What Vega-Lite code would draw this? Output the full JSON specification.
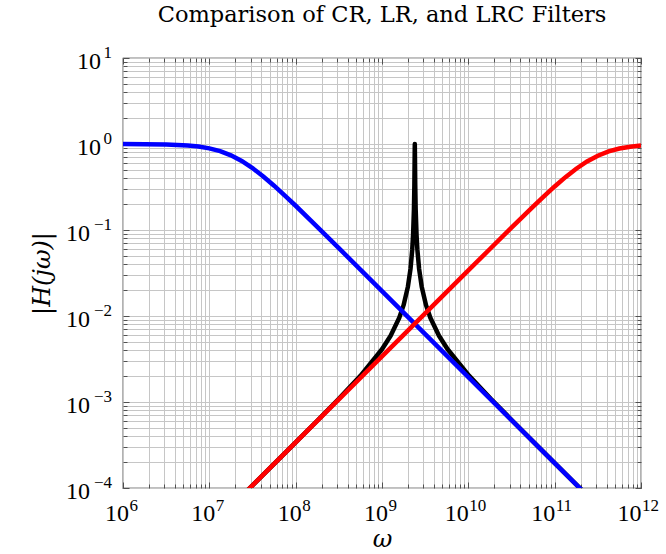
{
  "$schema": "https://vega.github.io/schema/vega-lite/v6.json",
  "width": 518,
  "height": 430,
  "autosize": {"type": "none"},
  "padding": {"left": 123, "top": 58, "right": 25, "bottom": 66},
  "background": "white",
  "config": {"view": {"stroke": "#000000", "strokeWidth": 1.2}},
  "title": {"text": "Comparison of CR, LR, and LRC Filters", "font": "DejaVu Serif", "fontSize": 22.5, "fontWeight": "normal", "anchor": "middle", "baseline": "alphabetic", "offset": 0, "color": "#000000"},
  "datasets": {
    "curves": [
      {"s": "LR", "w": 1e6, "H": 0.9987},
      {"s": "LR", "w": 1.7783e6, "H": 0.9959},
      {"s": "LR", "w": 3.1623e6, "H": 0.9871},
      {"s": "LR", "w": 5.6234e6, "H": 0.9608},
      {"s": "LR", "w": 7.4989e6, "H": 0.9334},
      {"s": "LR", "w": 1e7, "H": 0.8898},
      {"s": "LR", "w": 1.3335e7, "H": 0.8254},
      {"s": "LR", "w": 1.7783e7, "H": 0.7389},
      {"s": "LR", "w": 2.3714e7, "H": 0.6351},
      {"s": "LR", "w": 3.1623e7, "H": 0.5249},
      {"s": "LR", "w": 4.2170e7, "H": 0.4197},
      {"s": "LR", "w": 5.6234e7, "H": 0.3276},
      {"s": "LR", "w": 7.4989e7, "H": 0.2516},
      {"s": "LR", "w": 1e8, "H": 0.1914},
      {"s": "LR", "w": 1.7783e8, "H": 0.1090},
      {"s": "LR", "w": 3.1623e8, "H": 0.06155},
      {"s": "LR", "w": 5.6234e8, "H": 0.03465},
      {"s": "LR", "w": 1e9, "H": 0.01949},
      {"s": "LR", "w": 3.1623e9, "H": 0.006166},
      {"s": "LR", "w": 1e10, "H": 0.001950},
      {"s": "LR", "w": 3.1623e10, "H": 0.0006166},
      {"s": "LR", "w": 1e11, "H": 0.0001950},
      {"s": "LR", "w": 3.1623e11, "H": 0.00006166},
      {"s": "LR", "w": 1e12, "H": 0.0000195},
      {"s": "CR", "w": 1e6, "H": 3.388e-6},
      {"s": "CR", "w": 1e7, "H": 3.388e-5},
      {"s": "CR", "w": 1e8, "H": 3.388e-4},
      {"s": "CR", "w": 1e9, "H": 3.388e-3},
      {"s": "CR", "w": 3.1623e9, "H": 0.010715},
      {"s": "CR", "w": 1e10, "H": 0.03386},
      {"s": "CR", "w": 1.7783e10, "H": 0.06015},
      {"s": "CR", "w": 3.1623e10, "H": 0.10654},
      {"s": "CR", "w": 5.6234e10, "H": 0.18718},
      {"s": "CR", "w": 7.4989e10, "H": 0.24628},
      {"s": "CR", "w": 1e11, "H": 0.32092},
      {"s": "CR", "w": 1.3335e11, "H": 0.41177},
      {"s": "CR", "w": 1.7783e11, "H": 0.51611},
      {"s": "CR", "w": 2.3714e11, "H": 0.62638},
      {"s": "CR", "w": 3.1623e11, "H": 0.73109},
      {"s": "CR", "w": 4.2170e11, "H": 0.81929},
      {"s": "CR", "w": 5.6234e11, "H": 0.88548},
      {"s": "CR", "w": 7.4989e11, "H": 0.93053},
      {"s": "CR", "w": 1e12, "H": 0.95910},
      {"s": "LRC", "w": 1e6, "H": 3.388e-6},
      {"s": "LRC", "w": 3.1623e6, "H": 1.0715e-5},
      {"s": "LRC", "w": 1e7, "H": 3.388e-5},
      {"s": "LRC", "w": 3.1623e7, "H": 1.0717e-4},
      {"s": "LRC", "w": 1e8, "H": 3.3943e-4},
      {"s": "LRC", "w": 1.7783e8, "H": 6.0585e-4},
      {"s": "LRC", "w": 3.1623e8, "H": 1.0904e-3},
      {"s": "LRC", "w": 5.6234e8, "H": 2.0162e-3},
      {"s": "LRC", "w": 1e9, "H": 4.1009e-3},
      {"s": "LRC", "w": 1.2589e9, "H": 5.887e-3},
      {"s": "LRC", "w": 1.5849e9, "H": 9.530e-3},
      {"s": "LRC", "w": 1.7783e9, "H": 0.013375},
      {"s": "LRC", "w": 1.9953e9, "H": 0.021933},
      {"s": "LRC", "w": 2.1380e9, "H": 0.035199},
      {"s": "LRC", "w": 2.2387e9, "H": 0.05868},
      {"s": "LRC", "w": 2.2909e9, "H": 0.08787},
      {"s": "LRC", "w": 2.3442e9, "H": 0.17382},
      {"s": "LRC", "w": 2.3714e9, "H": 0.33287},
      {"s": "LRC", "w": 2.3878e9, "H": 0.66165},
      {"s": "LRC", "w": 2.3988e9, "H": 1.0},
      {"s": "LRC", "w": 2.4099e9, "H": 0.66165},
      {"s": "LRC", "w": 2.4266e9, "H": 0.33287},
      {"s": "LRC", "w": 2.4547e9, "H": 0.17382},
      {"s": "LRC", "w": 2.5119e9, "H": 0.08787},
      {"s": "LRC", "w": 2.5704e9, "H": 0.05868},
      {"s": "LRC", "w": 2.6915e9, "H": 0.035199},
      {"s": "LRC", "w": 2.8840e9, "H": 0.021933},
      {"s": "LRC", "w": 3.2359e9, "H": 0.013375},
      {"s": "LRC", "w": 3.6308e9, "H": 9.530e-3},
      {"s": "LRC", "w": 4.5709e9, "H": 5.887e-3},
      {"s": "LRC", "w": 5.7544e9, "H": 4.1009e-3},
      {"s": "LRC", "w": 1.0233e10, "H": 2.0162e-3},
      {"s": "LRC", "w": 1.8197e10, "H": 1.0904e-3},
      {"s": "LRC", "w": 3.2359e10, "H": 6.0585e-4},
      {"s": "LRC", "w": 5.7544e10, "H": 3.3943e-4},
      {"s": "LRC", "w": 1.8197e11, "H": 1.0717e-4},
      {"s": "LRC", "w": 5.7544e11, "H": 3.388e-5},
      {"s": "LRC", "w": 1e12, "H": 1.9498e-5}
    ],
    "xl": [
      {"v": 1e6, "b": "10", "e": "6"},
      {"v": 1e7, "b": "10", "e": "7"},
      {"v": 1e8, "b": "10", "e": "8"},
      {"v": 1e9, "b": "10", "e": "9"},
      {"v": 1e10, "b": "10", "e": "10"},
      {"v": 1e11, "b": "10", "e": "11"},
      {"v": 1e12, "b": "10", "e": "12"}
    ],
    "yl": [
      {"v": 1e-4, "b": "10", "e": "−4"},
      {"v": 1e-3, "b": "10", "e": "−3"},
      {"v": 1e-2, "b": "10", "e": "−2"},
      {"v": 1e-1, "b": "10", "e": "−1"},
      {"v": 1, "b": "10", "e": "0"},
      {"v": 10, "b": "10", "e": "1"}
    ]
  },
  "resolve": {"axis": {"x": "independent", "y": "independent"}},
  "layer": [
    {
      "data": {"name": "curves"},
      "transform": [{"filter": "datum.s == 'LRC'"}],
      "mark": {"type": "line", "clip": true, "strokeWidth": 4.5, "strokeJoin": "round"},
      "encoding": {
        "x": {"field": "w", "type": "quantitative",
          "scale": {"type": "log", "domain": [1e6, 1e12], "nice": false},
          "axis": {"orient": "bottom", "title": "ω", "titleFont": "DejaVu Serif", "titleFontStyle": "italic", "titleFontWeight": "normal", "titleFontSize": 24, "titlePadding": 39, "titleColor": "#000",
            "values": [1e6,2e6,3e6,4e6,5e6,6e6,7e6,8e6,9e6,1e7,2e7,3e7,4e7,5e7,6e7,7e7,8e7,9e7,1e8,2e8,3e8,4e8,5e8,6e8,7e8,8e8,9e8,1e9,2e9,3e9,4e9,5e9,6e9,7e9,8e9,9e9,1e10,2e10,3e10,4e10,5e10,6e10,7e10,8e10,9e10,1e11,2e11,3e11,4e11,5e11,6e11,7e11,8e11,9e11,1e12],
            "labels": false, "grid": true, "gridColor": "#c6c6c6", "gridWidth": 1, "ticks": false, "domain": false}},
        "y": {"field": "H", "type": "quantitative",
          "scale": {"type": "log", "domain": [1e-4, 10], "nice": false},
          "axis": {"orient": "left", "title": "|H(jω)|", "titleFont": "DejaVu Serif", "titleFontStyle": "italic", "titleFontWeight": "normal", "titleFontSize": 24, "titlePadding": 69, "titleColor": "#000",
            "values": [1e-4,2e-4,3e-4,4e-4,5e-4,6e-4,7e-4,8e-4,9e-4,1e-3,2e-3,3e-3,4e-3,5e-3,6e-3,7e-3,8e-3,9e-3,1e-2,2e-2,3e-2,4e-2,5e-2,6e-2,7e-2,8e-2,9e-2,0.1,0.2,0.3,0.4,0.5,0.6,0.7,0.8,0.9,1,2,3,4,5,6,7,8,9,10],
            "labels": false, "grid": true, "gridColor": "#c6c6c6", "gridWidth": 1, "ticks": false, "domain": false}},
        "color": {"field": "s", "type": "nominal", "scale": {"domain": ["LRC", "LR", "CR"], "range": ["#000000", "#0000ff", "#ff0000"]}, "legend": null}
      }
    },
    {
      "data": {"name": "curves"},
      "transform": [{"filter": "datum.s == 'LR'"}],
      "mark": {"type": "line", "clip": true, "strokeWidth": 4.5},
      "encoding": {
        "x": {"field": "w", "type": "quantitative",
          "scale": {"type": "log", "domain": [1e6, 1e12], "nice": false},
          "axis": {"orient": "bottom", "title": null, "labels": false, "grid": false, "domain": false,
            "values": [1e6,2e6,3e6,4e6,5e6,6e6,7e6,8e6,9e6,1e7,2e7,3e7,4e7,5e7,6e7,7e7,8e7,9e7,1e8,2e8,3e8,4e8,5e8,6e8,7e8,8e8,9e8,1e9,2e9,3e9,4e9,5e9,6e9,7e9,8e9,9e9,1e10,2e10,3e10,4e10,5e10,6e10,7e10,8e10,9e10,1e11,2e11,3e11,4e11,5e11,6e11,7e11,8e11,9e11,1e12],
            "ticks": true, "tickColor": "#505050", "tickWidth": 1,
            "tickSize": {"condition": {"test": "abs(log(datum.value)/LN10 - round(log(datum.value)/LN10)) < 0.01", "value": -6}, "value": -4}}},
        "y": {"field": "H", "type": "quantitative",
          "scale": {"type": "log", "domain": [1e-4, 10], "nice": false},
          "axis": {"orient": "left", "title": null, "labels": false, "grid": false, "domain": false,
            "values": [1e-4,2e-4,3e-4,4e-4,5e-4,6e-4,7e-4,8e-4,9e-4,1e-3,2e-3,3e-3,4e-3,5e-3,6e-3,7e-3,8e-3,9e-3,1e-2,2e-2,3e-2,4e-2,5e-2,6e-2,7e-2,8e-2,9e-2,0.1,0.2,0.3,0.4,0.5,0.6,0.7,0.8,0.9,1,2,3,4,5,6,7,8,9,10],
            "ticks": true, "tickColor": "#505050", "tickWidth": 1,
            "tickSize": {"condition": {"test": "abs(log(datum.value)/LN10 - round(log(datum.value)/LN10)) < 0.01", "value": -6}, "value": -4}}},
        "color": {"field": "s", "type": "nominal", "scale": {"domain": ["LRC", "LR", "CR"], "range": ["#000000", "#0000ff", "#ff0000"]}, "legend": null}
      }
    },
    {
      "data": {"name": "curves"},
      "transform": [{"filter": "datum.s == 'CR'"}],
      "mark": {"type": "line", "clip": true, "strokeWidth": 4.5},
      "encoding": {
        "x": {"field": "w", "type": "quantitative",
          "scale": {"type": "log", "domain": [1e6, 1e12], "nice": false},
          "axis": {"orient": "top", "title": null, "labels": false, "grid": false, "domain": false,
            "values": [1e6,2e6,3e6,4e6,5e6,6e6,7e6,8e6,9e6,1e7,2e7,3e7,4e7,5e7,6e7,7e7,8e7,9e7,1e8,2e8,3e8,4e8,5e8,6e8,7e8,8e8,9e8,1e9,2e9,3e9,4e9,5e9,6e9,7e9,8e9,9e9,1e10,2e10,3e10,4e10,5e10,6e10,7e10,8e10,9e10,1e11,2e11,3e11,4e11,5e11,6e11,7e11,8e11,9e11,1e12],
            "ticks": true, "tickColor": "#505050", "tickWidth": 1,
            "tickSize": {"condition": {"test": "abs(log(datum.value)/LN10 - round(log(datum.value)/LN10)) < 0.01", "value": -6}, "value": -4}}},
        "y": {"field": "H", "type": "quantitative",
          "scale": {"type": "log", "domain": [1e-4, 10], "nice": false},
          "axis": {"orient": "right", "title": null, "labels": false, "grid": false, "domain": false,
            "values": [1e-4,2e-4,3e-4,4e-4,5e-4,6e-4,7e-4,8e-4,9e-4,1e-3,2e-3,3e-3,4e-3,5e-3,6e-3,7e-3,8e-3,9e-3,1e-2,2e-2,3e-2,4e-2,5e-2,6e-2,7e-2,8e-2,9e-2,0.1,0.2,0.3,0.4,0.5,0.6,0.7,0.8,0.9,1,2,3,4,5,6,7,8,9,10],
            "ticks": true, "tickColor": "#505050", "tickWidth": 1,
            "tickSize": {"condition": {"test": "abs(log(datum.value)/LN10 - round(log(datum.value)/LN10)) < 0.01", "value": -6}, "value": -4}}},
        "color": {"field": "s", "type": "nominal", "scale": {"domain": ["LRC", "LR", "CR"], "range": ["#000000", "#0000ff", "#ff0000"]}, "legend": null}
      }
    },
    {
      "data": {"name": "xl"},
      "transform": [{"filter": "length(datum.e) == 1"}],
      "mark": {"type": "text", "font": "Liberation Serif", "fontSize": 24, "align": "center", "baseline": "alphabetic", "dx": -6, "dy": 33, "color": "#000", "clip": false},
      "encoding": {
        "x": {"field": "v", "type": "quantitative", "scale": {"type": "log", "domain": [1e6, 1e12], "nice": false}, "axis": null},
        "y": {"datum": 0.0001, "type": "quantitative", "scale": {"type": "log", "domain": [1e-4, 10], "nice": false}, "axis": null},
        "text": {"field": "b"}
      }
    },
    {
      "data": {"name": "xl"},
      "transform": [{"filter": "length(datum.e) == 1"}],
      "mark": {"type": "text", "font": "Liberation Serif", "fontSize": 17, "align": "left", "baseline": "alphabetic", "dx": 6.5, "dy": 23, "color": "#000", "clip": false},
      "encoding": {
        "x": {"field": "v", "type": "quantitative", "scale": {"type": "log", "domain": [1e6, 1e12], "nice": false}, "axis": null},
        "y": {"datum": 0.0001, "type": "quantitative", "scale": {"type": "log", "domain": [1e-4, 10], "nice": false}, "axis": null},
        "text": {"field": "e"}
      }
    },
    {
      "data": {"name": "xl"},
      "transform": [{"filter": "length(datum.e) == 2"}],
      "mark": {"type": "text", "font": "Liberation Serif", "fontSize": 24, "align": "center", "baseline": "alphabetic", "dx": -11.5, "dy": 33, "color": "#000", "clip": false},
      "encoding": {
        "x": {"field": "v", "type": "quantitative", "scale": {"type": "log", "domain": [1e6, 1e12], "nice": false}, "axis": null},
        "y": {"datum": 0.0001, "type": "quantitative", "scale": {"type": "log", "domain": [1e-4, 10], "nice": false}, "axis": null},
        "text": {"field": "b"}
      }
    },
    {
      "data": {"name": "xl"},
      "transform": [{"filter": "length(datum.e) == 2"}],
      "mark": {"type": "text", "font": "Liberation Serif", "fontSize": 17, "align": "left", "baseline": "alphabetic", "dx": 1, "dy": 23, "color": "#000", "clip": false},
      "encoding": {
        "x": {"field": "v", "type": "quantitative", "scale": {"type": "log", "domain": [1e6, 1e12], "nice": false}, "axis": null},
        "y": {"datum": 0.0001, "type": "quantitative", "scale": {"type": "log", "domain": [1e-4, 10], "nice": false}, "axis": null},
        "text": {"field": "e"}
      }
    },
    {
      "data": {"name": "yl"},
      "transform": [{"filter": "datum.v > 0.5"}],
      "mark": {"type": "text", "font": "Liberation Serif", "fontSize": 24, "align": "right", "baseline": "alphabetic", "dx": -22, "dy": 11, "color": "#000", "clip": false},
      "encoding": {
        "x": {"datum": 1000000, "type": "quantitative", "scale": {"type": "log", "domain": [1e6, 1e12], "nice": false}, "axis": null},
        "y": {"field": "v", "type": "quantitative", "scale": {"type": "log", "domain": [1e-4, 10], "nice": false}, "axis": null},
        "text": {"field": "b"}
      }
    },
    {
      "data": {"name": "yl"},
      "transform": [{"filter": "datum.v < 0.5"}],
      "mark": {"type": "text", "font": "Liberation Serif", "fontSize": 24, "align": "right", "baseline": "alphabetic", "dx": -33, "dy": 11, "color": "#000", "clip": false},
      "encoding": {
        "x": {"datum": 1000000, "type": "quantitative", "scale": {"type": "log", "domain": [1e6, 1e12], "nice": false}, "axis": null},
        "y": {"field": "v", "type": "quantitative", "scale": {"type": "log", "domain": [1e-4, 10], "nice": false}, "axis": null},
        "text": {"field": "b"}
      }
    },
    {
      "data": {"name": "yl"},
      "mark": {"type": "text", "font": "Liberation Serif", "fontSize": 17, "align": "right", "baseline": "alphabetic", "dx": -11, "dy": 0, "color": "#000", "clip": false},
      "encoding": {
        "x": {"datum": 1000000, "type": "quantitative", "scale": {"type": "log", "domain": [1e6, 1e12], "nice": false}, "axis": null},
        "y": {"field": "v", "type": "quantitative", "scale": {"type": "log", "domain": [1e-4, 10], "nice": false}, "axis": null},
        "text": {"field": "e"}
      }
    }
  ]
}
